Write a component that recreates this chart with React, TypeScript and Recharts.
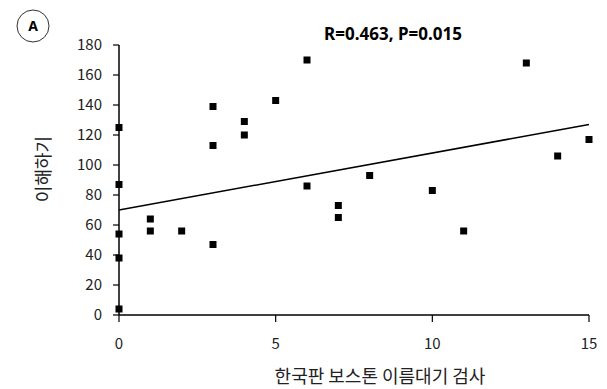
import React from 'react';
import { ScatterChart, Scatter, XAxis, YAxis, ReferenceLine, Label, Customized } from 'recharts';

const xValues = [0, 0, 0, 0, 0, 1, 1, 2, 3, 3, 3, 4, 4, 5, 6, 6, 7, 7, 8, 10, 11, 13, 14, 15];
const yValues = [125, 87, 54, 38, 4, 64, 56, 56, 139, 113, 47, 129, 120, 143, 170, 86, 73, 65, 93, 83, 56, 168, 106, 117];
const xTicks = [0, 5, 10, 15];
const yTicks = [0, 20, 40, 60, 80, 100, 120, 140, 160, 180];
const fitStart = { x: 0, y: 70 };
const fitEnd = { x: 15, y: 127 };
const titleText = 'R=0.463, P=0.015';
const panelLabel = 'A';
const xTitle = '한국판 보스톤 이름대기 검사';
const yTitle = '이해하기';

const data = xValues.map((x, i) => ({ x, y: yValues[i] }));

const FONT = '"Noto Sans CJK KR", "Noto Sans", sans-serif';

const Square = (props: any) => (
  <rect x={props.cx - 3.5} y={props.cy - 3.5} width={7} height={7} fill="#000" />
);

const Overlay = () => (
  <g>
    <circle cx={33} cy={26} r={16} fill="none" stroke="#333" strokeWidth={1} />
    <text x={33} y={31} textAnchor="middle" fontFamily='"Noto Sans", sans-serif' fontWeight="bold" fontSize={14} fill="#000">
      {panelLabel}
    </text>
    <text x={393} y={40} textAnchor="middle" fontFamily='"Noto Sans", sans-serif' fontWeight="bold" fontSize={17} fill="#000">
      {titleText}
    </text>
  </g>
);

export default function App() {
  return (
    <div style={{ position: 'absolute', left: 0, top: 0, background: '#fff' }}>
      <ScatterChart width={607} height={389} margin={{ top: 45, right: 18, bottom: 0, left: 0 }}>
        <XAxis
          type="number"
          dataKey="x"
          domain={[0, 15]}
          ticks={xTicks}
          height={74}
          tickSize={7}
          tickMargin={16}
          axisLine={{ stroke: '#000', strokeWidth: 1.5 }}
          tickLine={{ stroke: '#000', strokeWidth: 1.2 }}
          tick={{ fill: '#222', fontSize: 15, fontFamily: FONT }}
        >
          <Label
            content={(p: any) => {
              const vb = p.viewBox;
              return (
                <text x={vb.x + vb.width / 2 + 26} y={383} textAnchor="middle" fontFamily={FONT} fontSize={18} fill="#222">
                  {xTitle}
                </text>
              );
            }}
          />
        </XAxis>
        <YAxis
          type="number"
          dataKey="y"
          domain={[0, 180]}
          ticks={yTicks}
          width={119}
          tickSize={6}
          tickMargin={11}
          axisLine={{ stroke: '#000', strokeWidth: 1.5 }}
          tickLine={{ stroke: '#000', strokeWidth: 1.2 }}
          tick={{ fill: '#222', fontSize: 15, fontFamily: FONT }}
        >
          <Label
            content={(p: any) => {
              const vb = p.viewBox;
              const cy = vb.y + vb.height / 2 - 11;
              return (
                <text x={42} y={cy} transform={`rotate(-90 42 ${cy})`} textAnchor="middle" dominantBaseline="central" fontFamily={FONT} fontSize={18} fill="#222">
                  {yTitle}
                </text>
              );
            }}
          />
        </YAxis>
        <ReferenceLine segment={[fitStart, fitEnd]} stroke="#000" strokeWidth={1.5} ifOverflow="extendDomain" />
        <Scatter data={data} shape={Square} isAnimationActive={false} />
        <Customized component={Overlay} />
      </ScatterChart>
    </div>
  );
}
